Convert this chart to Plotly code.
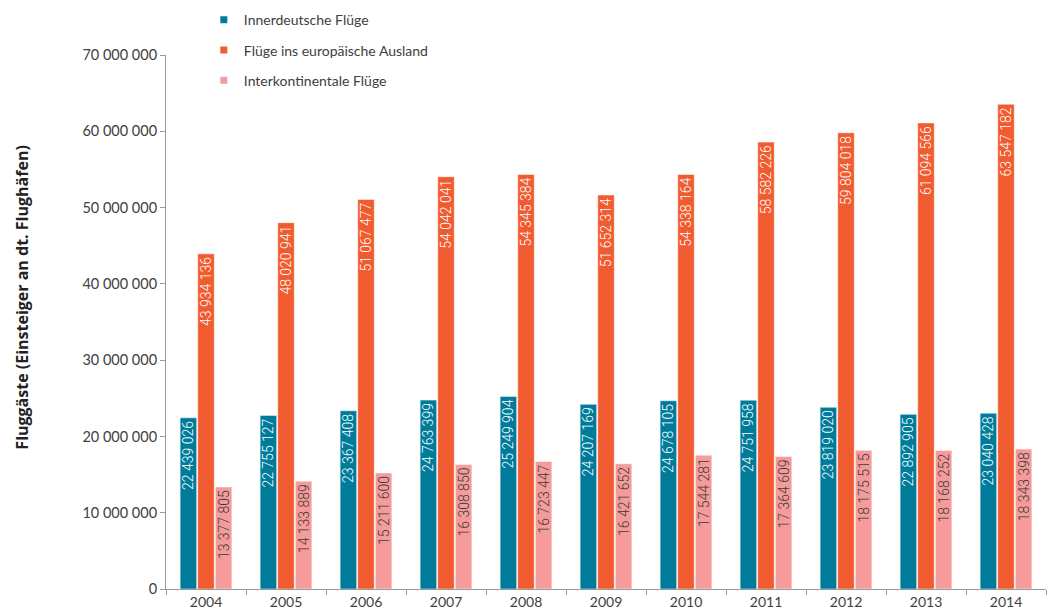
import plotly.graph_objects as go

years = ["2004", "2005", "2006", "2007", "2008", "2009", "2010", "2011", "2012", "2013", "2014"]
innerdeutsch = [22439026, 22755127, 23367408, 24763399, 25249904, 24207169, 24678105, 24751958, 23819020, 22892905, 23040428]
europa = [43934136, 48020941, 51067477, 54042041, 54345384, 51652314, 54338164, 58582226, 59804018, 61094566, 63547182]
interkont = [13377805, 14133889, 15211600, 16308850, 16723447, 16421652, 17544281, 17364609, 18175515, 18168252, 18343398]
y_title = "Fluggäste (Einsteiger an dt. Flughäfen)"

series = [
    ("Innerdeutsche Flüge", innerdeutsch, "#007B9B", "white"),
    ("Flüge ins europäische Ausland", europa, "#F15B30", "white"),
    ("Interkontinentale Flüge", interkont, "#F59C9B", "#3a3a3a"),
]

fig = go.Figure()
for i, (name, vals, col, tcol) in enumerate(series):
    fig.add_trace(go.Bar(
        x=years, y=vals, name=name, showlegend=False,
        marker=dict(color=col, line=dict(color="rgba(255,255,255,0.5)", width=1)),
        texttemplate="%{y:,d}", textposition="inside", insidetextanchor="end",
        textangle=-90, constraintext="none",
        textfont=dict(family="Roboto", size=14, color=tcol, weight=300),
        hoverinfo="skip",
    ))
for i, (name, vals, col, tcol) in enumerate(series):
    fig.add_trace(go.Scatter(
        x=[None], y=[None], mode="markers", name=name, legendgroup=f"g{i}",
        marker=dict(symbol="square", size=7, color=col),
    ))

fig.update_layout(
    width=1056, height=614,
    margin=dict(l=166, r=10, t=55, b=25, autoexpand=False),
    paper_bgcolor="white", plot_bgcolor="white",
    separators=", ",
    barmode="group", bargap=0.34, bargroupgap=0.06,
    font=dict(family="Lato", size=14, color="#404040"),
    legend=dict(
        x=0.043, y=1.095, xanchor="left", yanchor="top",
        font=dict(family="Lato", size=14, color="#404040"),
        tracegroupgap=9, bgcolor="rgba(0,0,0,0)",
    ),
    xaxis=dict(
        type="category", showline=True, linecolor="#9a9a9a", linewidth=1,
        ticks="outside", tickson="boundaries", ticklen=5, tickcolor="#9a9a9a",
        tickfont=dict(family="Lato", size=14, color="#404040"),
        showgrid=False, automargin=False,
    ),
    yaxis=dict(
        range=[0, 70000000], dtick=10000000, tickformat=",d",
        showline=True, linecolor="#9a9a9a", linewidth=1,
        ticks="outside", ticklen=5, tickcolor="#9a9a9a",
        showgrid=False, zeroline=False, automargin=False,
        tickfont=dict(family="Lato", size=14.5, color="#404040"),
    ),
    annotations=[dict(
        text=y_title, xref="paper", yref="paper", x=-0.164, y=0.545,
        xanchor="center", yanchor="middle", textangle=-90, showarrow=False,
        font=dict(family="Open Sans", size=16, color="#222222", weight="bold"),
    )],
)

fig.write_html("out.html")
